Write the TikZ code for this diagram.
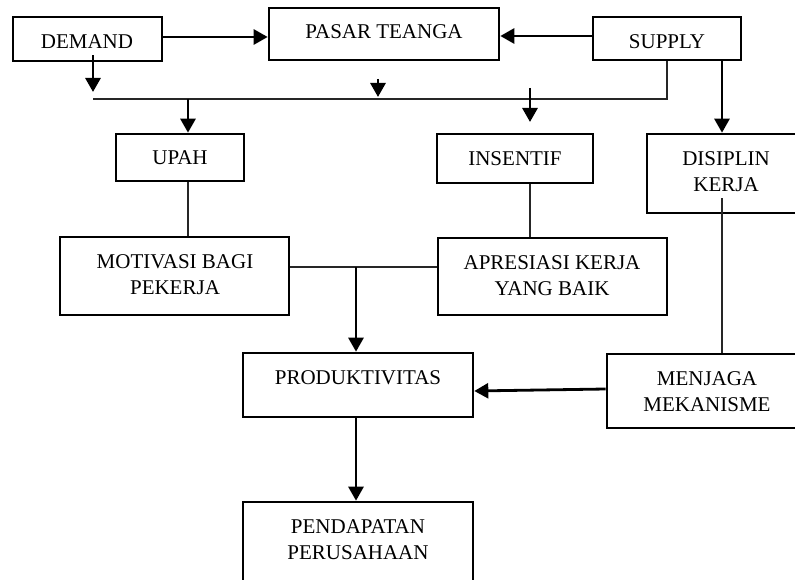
\documentclass[tikz,border=0pt]{standalone}
\usepackage{fontspec}
\setmainfont{Liberation Serif}
\usetikzlibrary{arrows.meta}
\begin{document}
\begin{tikzpicture}[x=1pt,y=-1pt,
  boxnode/.style={draw=black,line width=2.6pt,rectangle,inner sep=0pt},
  txt/.style={inner sep=0pt,align=center,font=\fontsize{21pt}{26pt}\selectfont},
  arr/.style={line width=2.8pt,-{Triangle[length=14pt,width=15pt]}},
  thinline/.style={line width=1.3pt,draw=black!85}]
\useasboundingbox (0,0) rectangle (795,580);
\fill[white] (0,0) rectangle (795,580);
\clip (0,0) rectangle (795,580);
% boxes
\node[boxnode,minimum width=149pt,minimum height=44pt] (demand) at (87.5,39) {};
\node[boxnode,minimum width=230pt,minimum height=52pt] (pasar) at (384,34) {};
\node[boxnode,minimum width=148pt,minimum height=43pt] (supply) at (667,38.5) {};
\node[boxnode,minimum width=128pt,minimum height=47pt] (upah) at (180,157.5) {};
\node[boxnode,minimum width=156pt,minimum height=49pt] (insentif) at (515,158.5) {};
\node[boxnode,minimum width=158pt,minimum height=79pt] (disiplin) at (726,173.5) {};
\node[boxnode,minimum width=229pt,minimum height=78pt] (motivasi) at (174.5,276) {};
\node[boxnode,minimum width=229pt,minimum height=77pt] (apresiasi) at (552.5,276.5) {};
\node[boxnode,minimum width=230pt,minimum height=64pt] (produk) at (358,385) {};
\node[boxnode,minimum width=200pt,minimum height=74pt] (menjaga) at (707,391) {};
\node[boxnode,minimum width=230pt,minimum height=88pt] (pendapatan) at (358,546) {};
% texts
\node[txt] (tdemand) at (87,42) {DEMAND};
\node[txt] (tpasar) at (384,32) {PASAR TEANGA};
\node[txt] (tsupply) at (667,42) {SUPPLY};
\node[txt] (tupah) at (180,158) {UPAH};
\node[txt] (tinsentif) at (515,159) {INSENTIF};
\node[txt] (tdisiplin) at (726,171.5) {DISIPLIN\\KERJA};
\node[txt] (tmotivasi) at (175,274.5) {MOTIVASI BAGI\\PEKERJA};
\node[txt] (tapresiasi) at (552,276) {APRESIASI KERJA\\YANG BAIK};
\node[txt] (tproduk) at (358,378) {PRODUKTIVITAS};
\node[txt] (tmenjaga) at (707,391.5) {MENJAGA\\MEKANISME};
\node[txt] (tpendapatan) at (358,540) {PENDAPATAN\\PERUSAHAAN};
% junction coordinates
\coordinate (dx) at (93,99);
\coordinate (dtip) at (93,92);
\coordinate (ux) at (188,99);
\coordinate (a1s) at (378,79);
\coordinate (a1e) at (378,97);
\coordinate (a2s) at (530,88);
\coordinate (a2e) at (530,122);
\coordinate (sx) at (722,0);
\coordinate (mx) at (356,267);
% connectors
\draw[arr] ([yshift=2pt]demand.east) -- ([yshift=2pt]demand.east -| pasar.west);
\draw[arr] ([yshift=2.5pt]supply.west) -- ([yshift=2.5pt]supply.west -| pasar.east);
\draw[arr] ([yshift=7pt]demand.south -| dx) -- (dtip);
\draw[thinline] (dx) -| (supply.south);
\draw[arr] (a1s) -- (a1e);
\draw[arr] (a2s) -- (a2e);
\draw[arr] (ux) -- (ux |- upah.north);
\draw[thinline] (ux |- upah.south) -- (ux |- motivasi.north);
\draw[arr] (supply.south -| sx) -- (disiplin.north -| sx);
\draw[thinline] (insentif.south -| a2s) -- (apresiasi.north -| a2s);
\draw[thinline] ([yshift=9pt]motivasi.east) -- ([yshift=9pt]motivasi.east -| apresiasi.west);
\draw[arr] (mx) -- (mx |- produk.north);
\draw[thinline] ([yshift=16pt]disiplin.south -| sx) -- (menjaga.north -| sx);
\draw[arr] ([yshift=2pt]menjaga.west) -- ([yshift=-6pt]produk.east);
\draw[arr] (produk.south -| mx) -- (pendapatan.north -| mx);
\end{tikzpicture}
\end{document}
